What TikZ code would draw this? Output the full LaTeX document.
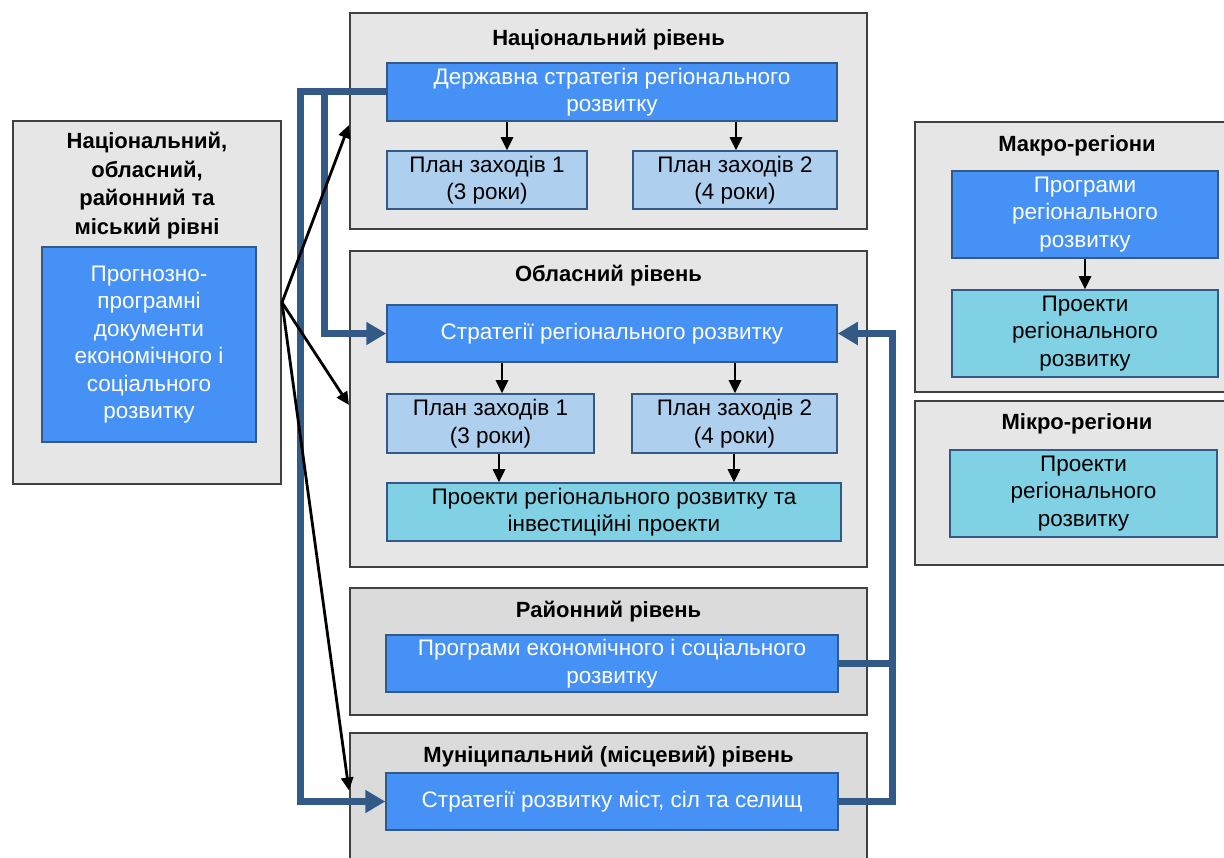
\documentclass[tikz,border=0pt]{standalone}
\usepackage{fontspec}
\setmainfont{Liberation Sans}
\usetikzlibrary{arrows.meta}
\usetikzlibrary{calc}
\usetikzlibrary{positioning}

\definecolor{boxgray}{HTML}{E6E6E6}
\definecolor{boxgraydk}{HTML}{DBDBDB}
\definecolor{edgegray}{HTML}{404040}
\definecolor{docblue}{HTML}{4691F5}
\definecolor{planblue}{HTML}{AECFEE}
\definecolor{projcyan}{HTML}{80D1E3}
\definecolor{linkblue}{HTML}{335A87}

\tikzset{
  level/.style={draw=edgegray, line width=2pt, fill=boxgray, inner sep=0pt},
  doc/.style={draw=linkblue, line width=1.5pt, fill=docblue, text=white, align=center, inner sep=0pt},
  plan/.style={doc, fill=planblue, text=black},
  proj/.style={doc, fill=projcyan, text=black},
  title/.style={font=\fontsize{22}{28.5}\selectfont\bfseries, align=center},
  arr/.style={-{Triangle[length=13pt,width=12pt]}, line width=2.8pt},
  link/.style={draw=linkblue, line width=7pt},
  linkarr/.style={link, -{Triangle[length=20pt,width=22pt]}}
}

\begin{document}
\begin{tikzpicture}[x=1pt, y=-1pt, font=\fontsize{22.5}{27.5}\selectfont]
        \useasboundingbox (0,0) rectangle (1224,858);

        % left column
        \node[level, minimum width=268, minimum height=363] (left) at (147,302.5) {};
        \node[title] (lefttitle) at (147,185.5) {Національний,\\обласний,\\районний та\\міський рівні};
        \node[doc, minimum width=214, minimum height=195] (leftdoc) at (149,344.5)
            {Прогнозно-\\програмні\\документи\\економічного і\\соціального\\розвитку};

        % national level
        \node[level, minimum width=517, minimum height=216] (nat) at (608.5,121) {};
        \node[title] (nattitle) at (608.5,40) {Національний рівень};
        \node[doc, minimum width=450, minimum height=58] (natstrat) at (612,92)
            {Державна стратегія регіонального\\розвитку};
        \node[plan, minimum width=200, minimum height=58] (natp1) at (487,180) {План заходів 1\\(3 роки)};
        \node[plan, minimum width=204, minimum height=58] (natp2) at (735,180) {План заходів 2\\(4 роки)};

        % oblast level
        \node[level, minimum width=517, minimum height=316] (obl) at (608.5,409) {};
        \node[title] (obltitle) at (608.5,276) {Обласний рівень};
        \node[doc, minimum width=450, minimum height=57] (oblstrat) at (612,333.5)
            {Стратегії регіонального розвитку};
        \node[plan, minimum width=207, minimum height=59] (oblp1) at (490.5,423.5) {План заходів 1\\(3 роки)};
        \node[plan, minimum width=205, minimum height=59] (oblp2) at (734.5,423.5) {План заходів 2\\(4 роки)};
        \node[proj, minimum width=454, minimum height=58] (oblproj) at (614,512)
            {Проекти регіонального розвитку та\\інвестиційні проекти};

        % raion level
        \node[level, fill=boxgraydk, minimum width=517, minimum height=127] (raion) at (608.5,651.5) {};
        \node[title] (raiontitle) at (608.5,612) {Районний рівень};
        \node[doc, minimum width=452, minimum height=57] (raionprog) at (612,663.5)
            {Програми економічного і соціального\\розвитку};

        % municipal level
        \node[level, fill=boxgraydk, minimum width=517, minimum height=137] (mun) at (608.5,801.5) {};
        \node[title] (muntitle) at (608.5,757) {Муніципальний (місцевий) рівень};
        \node[doc, minimum width=452, minimum height=57] (munstrat) at (612,801.5)
            {Стратегії розвитку міст, сіл та селищ};

        % macro- and micro-regions
        \node[level, minimum width=317, minimum height=270] (macro) at (1073.5,257) {};
        \node[title] (macrotitle) at (1077,146) {Макро-регіони};
        \node[doc, minimum width=266, minimum height=87] (macroprog) at (1085,214.5)
            {Програми\\регіонального\\розвитку};
        \node[proj, minimum width=266, minimum height=87] (macroproj) at (1085,333.5)
            {Проекти\\регіонального\\розвитку};

        \node[level, minimum width=317, minimum height=164] (micro) at (1073.5,483) {};
        \node[title] (microtitle) at (1077,424) {Мікро-регіони};
        \node[proj, minimum width=267, minimum height=87] (microproj) at (1083.5,493.5)
            {Проекти\\регіонального\\розвитку};

        % arrows inside the levels
        \draw[arr] (natstrat.south -| 507,0) -- (natp1.north -| 507,0);
        \draw[arr] (natstrat.south -| 736,0) -- (natp2.north -| 736,0);
        \draw[arr] (oblstrat.south -| 502,0) -- (oblp1.north -| 502,0);
        \draw[arr] (oblstrat.south -| 735,0) -- (oblp2.north -| 735,0);
        \draw[arr] (oblp1.south -| 499,0) -- (oblproj.north -| 499,0);
        \draw[arr] (oblp2.south -| 734,0) -- (oblproj.north -| 734,0);
        \draw[arr] (macroprog) -- (macroproj);

        % thick links
        \draw[linkarr] (natstrat.west) -- (300,92) |- (munstrat.west);
        \draw[linkarr] ([xshift=-62pt]natstrat.west) |- (oblstrat.west);
        \coordinate (rj) at (892,333.5);
        \draw[linkarr] (munstrat.east) -| (rj) -- (oblstrat.east);
        \draw[link] (raionprog.east) -- (raionprog.east -| rj);

        % fan from the left column
        \draw[arr] (left.east) -- ([yshift=-4pt]nat.west);
        \draw[arr] (left.east) -- ([yshift=4pt]obl.west);
        \draw[arr] (left.east) -- ([yshift=11pt]mun.west);
\end{tikzpicture}
\end{document}
